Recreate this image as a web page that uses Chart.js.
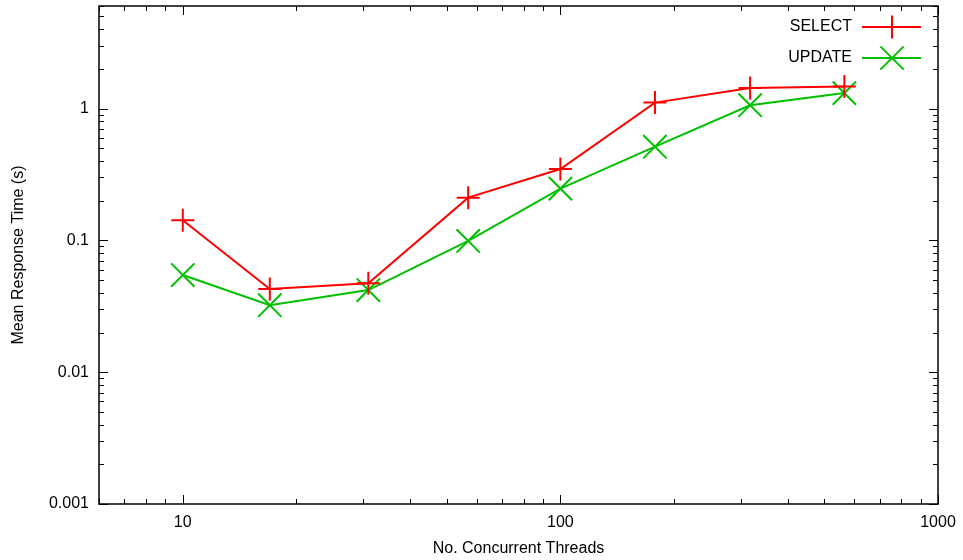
<!DOCTYPE html>
<html>
<head>
<meta charset="utf-8">
<title>Mean Response Time</title>
<script src="https://cdn.jsdelivr.net/npm/chart.js@4"></script>
<style>
  html, body { margin: 0; padding: 0; background: #fff; }
  #wrap { width: 963px; height: 560px; }
</style>
</head>
<body>
<div id="wrap"><canvas id="rtChart" width="963" height="560"></canvas></div>
<script>
// thread counts and mean response times (s)
const threads = [10, 17, 31, 57, 100, 178, 318, 565];
const selectTimes = [0.142, 0.0428, 0.0472, 0.211, 0.348, 1.11, 1.43, 1.47];
const updateTimes = [0.0546, 0.0322, 0.0420, 0.099, 0.247, 0.514, 1.06, 1.31];

const xTickValues = [10, 100, 1000];
const yTickValues = [0.001, 0.01, 0.1, 1];

const FONT = 'Liberation Sans, Arial, sans-serif';

function points(ys) {
    return threads.map((t, i) => ({ x: t, y: ys[i] }));
}

function decadeLabel(v) {
    return String(Number(v.toPrecision(1)));
}

// ==========================
// border with inward major/minor ticks on all four sides
// ==========================
const framePlugin = {
    id: 'frame',
    beforeDatasetsDraw(chart) {
        const { ctx, chartArea: a, scales } = chart;
        const xs = scales.x, ys = scales.y;
        ctx.save();
        ctx.strokeStyle = '#000';
        ctx.lineWidth = 1;

        const minorOf = (min, max) => {
            const out = [];
            for (let d = Math.floor(Math.log10(min)); d <= Math.ceil(Math.log10(max)); d++) {
                for (let m = 1; m < 10; m++) {
                    const v = m * Math.pow(10, d);
                    if (v >= min * 0.999 && v <= max * 1.001) out.push({ v, major: m === 1 });
                }
            }
            return out;
        };

        ctx.beginPath();
        minorOf(xs.min, xs.max).forEach(t => {
            const px = Math.round(xs.getPixelForValue(t.v)) + 0.5;
            const len = t.major ? 9 : 5;
            ctx.moveTo(px, a.bottom); ctx.lineTo(px, a.bottom - len);
            ctx.moveTo(px, a.top); ctx.lineTo(px, a.top + len);
        });
        minorOf(ys.min, ys.max).forEach(t => {
            const py = Math.round(ys.getPixelForValue(t.v)) + 0.5;
            const len = t.major ? 9 : 5;
            ctx.moveTo(a.left, py); ctx.lineTo(a.left + len, py);
            ctx.moveTo(a.right, py); ctx.lineTo(a.right - len, py);
        });
        ctx.stroke();

        ctx.lineWidth = 1.5;
        ctx.strokeRect(a.left, a.top, a.right - a.left, a.bottom - a.top);
        ctx.restore();
    },
    afterDraw(chart) {
        // key in the upper right corner
        const { ctx } = chart;
        ctx.save();
        ctx.font = '16px ' + FONT;
        ctx.fillStyle = '#000';
        ctx.textAlign = 'right';
        ctx.textBaseline = 'middle';
        chart.data.datasets.forEach((ds, i) => {
            const y = 27 + i * 31;
            ctx.fillText(ds.label, 852, y);
            ctx.strokeStyle = ds.borderColor;
            ctx.lineWidth = 2;
            ctx.beginPath();
            ctx.moveTo(862, y); ctx.lineTo(921, y);
            const r = ds.pointRadius;
            const c = 892;
            if (ds.pointStyle === 'cross') {
                ctx.moveTo(c - r, y); ctx.lineTo(c + r, y);
                ctx.moveTo(c, y - r); ctx.lineTo(c, y + r);
            } else {
                const d = r * Math.SQRT1_2;
                ctx.moveTo(c - d, y - d); ctx.lineTo(c + d, y + d);
                ctx.moveTo(c - d, y + d); ctx.lineTo(c + d, y - d);
            }
            ctx.stroke();
        });
        ctx.restore();
    }
};

new Chart(document.getElementById('rtChart'), {
    type: 'line',
    data: {
        datasets: [
            {
                label: 'SELECT',
                data: points(selectTimes),
                borderColor: '#ff0000',
                backgroundColor: '#ff0000',
                borderWidth: 2,
                pointStyle: 'cross',
                pointRadius: 11.5,
                pointBorderWidth: 2,
                pointHoverRadius: 11.5,
                tension: 0
            },
            {
                label: 'UPDATE',
                data: points(updateTimes),
                borderColor: '#00c000',
                backgroundColor: '#00c000',
                borderWidth: 2,
                pointStyle: 'crossRot',
                pointRadius: 16.5,
                pointBorderWidth: 2,
                pointHoverRadius: 16.5,
                tension: 0
            }
        ]
    },
    options: {
        responsive: false,
        animation: false,
        events: [],
        layout: { autoPadding: false, padding: { top: 6, right: 25, left: 0, bottom: 0 } },
        plugins: {
            legend: { display: false },
            tooltip: { enabled: false }
        },
        scales: {
            x: {
                type: 'logarithmic',
                min: 6,
                max: 1000,
                grid: { display: false, drawTicks: false },
                border: { display: false },
                afterBuildTicks: s => { s.ticks = xTickValues.map(v => ({ value: v })); },
                afterFit: s => { s.height = 56; s.paddingLeft = 0; s.paddingRight = 0; },
                ticks: {
                    color: '#000',
                    font: { family: FONT, size: 16 },
                    padding: 9,
                    maxRotation: 0,
                    autoSkip: false,
                    callback: v => decadeLabel(v)
                },
                title: {
                    display: true,
                    text: 'No. Concurrent Threads',
                    color: '#000',
                    font: { family: FONT, size: 16 },
                    padding: { top: 0, bottom: 2 }
                }
            },
            y: {
                type: 'logarithmic',
                min: 0.001,
                max: 6,
                grid: { display: false, drawTicks: false },
                border: { display: false },
                afterBuildTicks: s => { s.ticks = yTickValues.map(v => ({ value: v })); },
                afterFit: s => { s.width = 99; s.paddingTop = 0; s.paddingBottom = 0; },
                ticks: {
                    color: '#000',
                    font: { family: FONT, size: 16 },
                    padding: 10,
                    autoSkip: false,
                    callback: v => decadeLabel(v)
                },
                title: {
                    display: true,
                    text: 'Mean Response Time (s)',
                    color: '#000',
                    font: { family: FONT, size: 16 },
                    padding: { top: 9, bottom: 0 }
                }
            }
        }
    },
    plugins: [framePlugin]
});
</script>
</body>
</html>
